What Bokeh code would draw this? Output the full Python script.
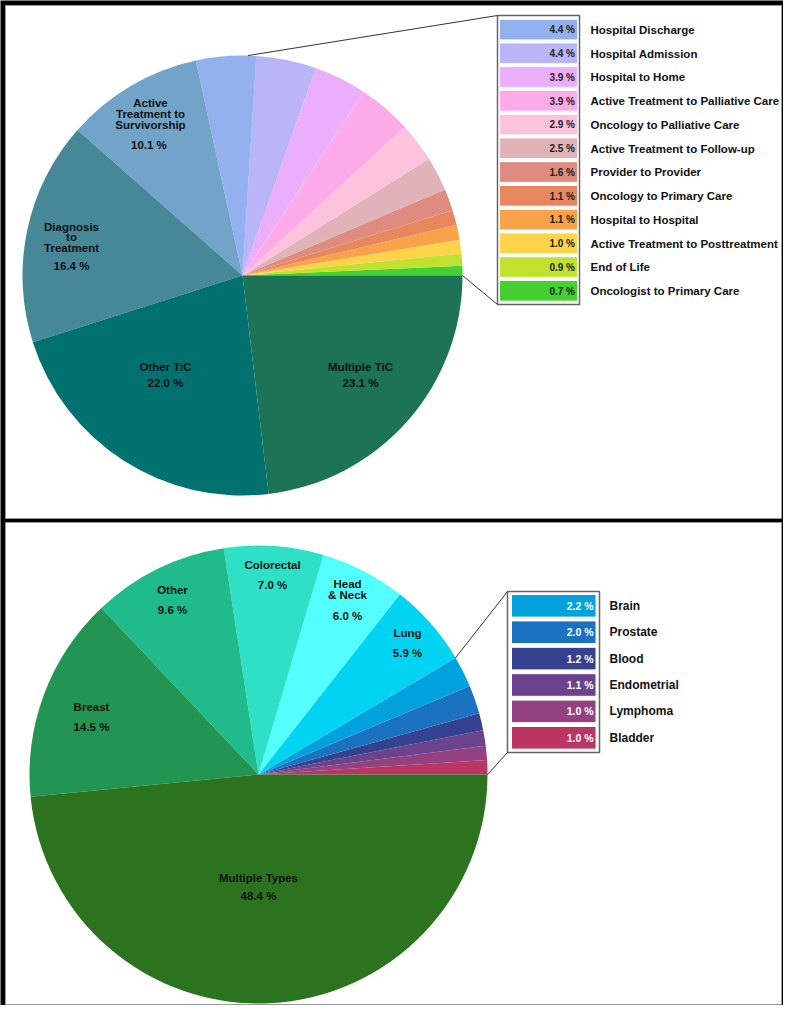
import math
from bokeh.plotting import figure
from bokeh.models import Range1d
from bokeh.core.properties import value
from bokeh.embed import file_html
from bokeh.resources import INLINE

# ---------------- data ----------------
top_small_labels = ["Hospital Discharge", "Hospital Admission", "Hospital to Home",
                    "Active Treatment to Palliative Care", "Oncology to Palliative Care",
                    "Active Treatment to Follow-up", "Provider to Provider",
                    "Oncology to Primary Care", "Hospital to Hospital",
                    "Active Treatment to Posttreatment", "End of Life",
                    "Oncologist to Primary Care"]
top_small_values = [4.4, 4.4, 3.9, 3.9, 2.9, 2.5, 1.6, 1.1, 1.1, 1.0, 0.9, 0.7]
top_small_colors = ["#93b0ef", "#bab4f9", "#ebaefa", "#fcaae8", "#fdc3dc", "#e0b3b9",
                    "#de8c80", "#e8875f", "#f8a349", "#fdd34a", "#c0e22e", "#45d031"]
top_main_labels = ["Active Treatment to Survivorship", "Diagnosis to Treatment",
                   "Other TiC", "Multiple TiC"]
top_main_values = [10.1, 16.4, 22.0, 23.1]
top_main_colors = ["#72a4c9", "#468898", "#00716f", "#1c7355"]
top_main_text = [["Active", "Treatment to", "Survivorship"], ["Diagnosis", "to", "Treatment"],
                 ["Other TiC"], ["Multiple TiC"]]
top_main_pct = ["10.1  %", "16.4 %", "22.0 %", "23.1 %"]

bot_small_labels = ["Brain", "Prostate", "Blood", "Endometrial", "Lymphoma", "Bladder"]
bot_small_values = [2.2, 2.0, 1.2, 1.1, 1.0, 1.0]
bot_small_colors = ["#00a1dd", "#1b72c0", "#35428f", "#6c428d", "#944180", "#bb3562"]
bot_main_labels = ["Lung", "Head & Neck", "Colorectal", "Other", "Breast", "Multiple Types"]
bot_main_values = [5.9, 6.0, 7.0, 9.6, 14.5, 48.4]
bot_main_colors = ["#00d4f2", "#52fffd", "#2ee0c5", "#1fbb8a", "#239552", "#2c731f"]
bot_main_text = [["Lung"], ["Head", "& Neck"], ["Colorectal"], ["Other"], ["Breast"], ["Multiple Types"]]

# ---------------- layout (image pixel coordinates) ----------------
W, H = 783, 1005
def fx(X): return X
def fy(Y): return H - Y

FONT = value("Liberation Sans")

p = figure(width=W, height=H, x_range=Range1d(0, W), y_range=Range1d(0, H),
           toolbar_location=None, output_backend="svg", min_border=0,
           x_axis_location=None, y_axis_location=None)
p.grid.visible = False
p.outline_line_color = None
p.background_fill_color = "black"
p.border_fill_color = "black"

# white panels
p.quad(left=[fx(5), fx(5)], right=[fx(781), fx(781)],
       top=[fy(5), fy(522)], bottom=[fy(518), fy(1004)],
       fill_color="white", line_color="#999999", line_width=1)


def pie(cx, cy, r, values, colors):
    total = sum(values)
    starts, ends = [], []
    acc = 0.0
    for v in values:
        starts.append(2 * math.pi * acc / total)
        acc += v
        ends.append(2 * math.pi * acc / total)
    p.wedge(x=[fx(cx)] * len(values), y=[fy(cy)] * len(values), radius=r,
            start_angle=starts, end_angle=ends, fill_color=colors, line_color=None)
    return starts, ends


def lines_text(xs, ys, texts, size, color="#111111", align="center"):
    p.text(x=[fx(x) for x in xs], y=[fy(y) for y in ys], text=texts,
           text_font=FONT, text_font_style="bold", text_font_size=size,
           text_color=color, text_align=align, text_baseline="middle")

# ---------------- top pie ----------------
TCX, TCY, TR = 242, 275, 220
vals = list(reversed(top_small_values)) + top_main_values
cols = list(reversed(top_small_colors)) + top_main_colors
pie(TCX, TCY, TR, vals, cols)

top_lbl_pos = [(150, [102, 113, 124], 144), (71, [226, 236, 247], 265),
               (165, [366], 382), (360, [366], 382)]
xs, ys, ts = [], [], []
for (lx, lys, py), words, pct in zip(top_lbl_pos, top_main_text, top_main_pct):
    for yy, w in zip(lys, words):
        xs.append(lx); ys.append(yy); ts.append(w)
    xs.append(lx); ys.append(py); ts.append(pct)
lines_text(xs, ys, ts, "11.5px")

n = len(top_small_labels)
sw_top = [18.7 + i * 23.75 for i in range(n)]
p.quad(left=[fx(499)] * n, right=[fx(577)] * n,
       top=[fy(t) for t in sw_top], bottom=[fy(t + 20.7) for t in sw_top],
       fill_color=top_small_colors, line_color="white", line_width=1)
p.quad(left=[fx(497)], right=[fx(579)], top=[fy(15)], bottom=[fy(304)],
       fill_color=None, line_color="#666666", line_width=1.5)
lines_text([574.5] * n, [t + 10.6 for t in sw_top], [f"{v:.1f} %" for v in top_small_values],
           "10px", color="#222222", align="right")
lines_text([590] * n, [t + 10.6 for t in sw_top], top_small_labels, "11.5px", color="#111111", align="left")

a1 = math.radians(88.6)
p.segment(x0=[fx(TCX + TR * math.cos(a1)), fx(TCX + TR)],
          y0=[fy(TCY - TR * math.sin(a1)), fy(TCY)],
          x1=[fx(497), fx(497)], y1=[fy(15), fy(304)], line_color="#333333", line_width=1)

# ---------------- bottom pie ----------------
BCX, BCY, BR = 258, 774, 229
vals = list(reversed(bot_small_values)) + bot_main_values
cols = list(reversed(bot_small_colors)) + bot_main_colors
starts, ends = pie(BCX, BCY, BR, vals, cols)

bot_lbl_pos = [(407, [632], 652), (347, [583, 594], 615), (272, [564], 584),
               (172, [589], 609), (91, [706], 726), (258, [877], 895)]
xs, ys, ts = [], [], []
for (lx, lys, py), words, v in zip(bot_lbl_pos, bot_main_text, bot_main_values):
    for yy, w in zip(lys, words):
        xs.append(lx); ys.append(yy); ts.append(w)
    xs.append(lx); ys.append(py); ts.append(f"{v:.1f} %")
lines_text(xs, ys, ts, "11.5px")

m = len(bot_small_labels)
sw_bot = [594 + i * 26.4 for i in range(m)]
p.quad(left=[fx(511)] * m, right=[fx(595.5)] * m,
       top=[fy(t) for t in sw_bot], bottom=[fy(t + 22.6) for t in sw_bot],
       fill_color=bot_small_colors, line_color="white", line_width=1)
p.quad(left=[fx(507)], right=[fx(599)], top=[fy(591)], bottom=[fy(752)],
       fill_color=None, line_color="#666666", line_width=1.5)
lines_text([593] * m, [t + 11.3 for t in sw_bot], [f"{v:.1f} %" for v in bot_small_values],
           "10.5px", color="white", align="right")
lines_text([609] * m, [t + 11.3 for t in sw_bot], bot_small_labels, "12px", color="#111111", align="left")

a2 = starts[len(bot_small_values)]
p.segment(x0=[fx(BCX + BR * math.cos(a2)), fx(BCX + BR)],
          y0=[fy(BCY - BR * math.sin(a2)), fy(BCY)],
          x1=[fx(507), fx(507)], y1=[fy(591), fy(752)], line_color="#333333", line_width=1)

open("out.html", "w").write(file_html(p, INLINE))
